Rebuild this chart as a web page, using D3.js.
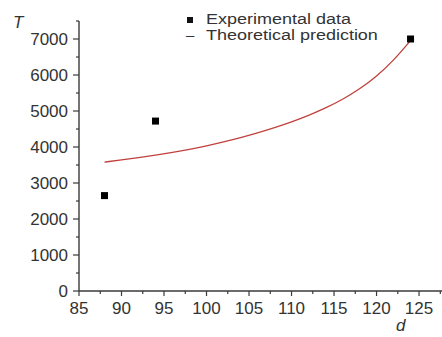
<!DOCTYPE html>
<html>
<head>
<meta charset="utf-8">
<script src="https://cdn.jsdelivr.net/npm/d3@7"></script>
<style>
  body { margin: 0; background: #fff; }
  text { font-family: "Liberation Sans", Arial, sans-serif; fill: #333; }
</style>
</head>
<body>
<div id="chart"></div>
<script>
// experimental points
const expD = [88, 94, 124];
const expT = [2650, 4720, 7000];

// theoretical curve
const theoD = [88, 90, 92, 94, 96, 98, 100, 102, 104, 106, 108, 110, 112, 114, 116, 118, 120, 122, 124];
const theoT = [3580, 3640, 3705, 3775, 3850, 3935, 4030, 4140, 4260, 4390, 4535, 4695, 4875, 5080, 5320, 5605, 5960, 6400, 6960];

const xTicks = [85, 90, 95, 100, 105, 110, 115, 120, 125];
const yTicks = [0, 1000, 2000, 3000, 4000, 5000, 6000, 7000];
const legendLabels = ["Experimental data", "Theoretical prediction"];

const width = 442, height = 337;
const svg = d3.select("#chart").append("svg")
    .attr("width", width).attr("height", height);

const x = d3.scaleLinear().domain([85, 127.7]).range([79, 442]);
const y = d3.scaleLinear().domain([0, 7500]).range([291, 21]);

const axisColor = "#3a3a3a";

// axes lines
svg.append("line")
    .attr("x1", x(85)).attr("x2", x(127.7))
    .attr("y1", y(0)).attr("y2", y(0))
    .attr("stroke", axisColor).attr("stroke-width", 1.4);
svg.append("line")
    .attr("x1", x(85)).attr("x2", x(85))
    .attr("y1", y(0)).attr("y2", y(7500))
    .attr("stroke", axisColor).attr("stroke-width", 1.4);

// x ticks (major + minor)
const xMinor = d3.range(87.5, 128, 5);
svg.append("g").selectAll("line.maj")
    .data(xTicks).enter().append("line")
    .attr("x1", d => x(d)).attr("x2", d => x(d))
    .attr("y1", y(0)).attr("y2", y(0) + 5)
    .attr("stroke", axisColor).attr("stroke-width", 1.2);
svg.append("g").selectAll("line.min")
    .data(xMinor).enter().append("line")
    .attr("x1", d => x(d)).attr("x2", d => x(d))
    .attr("y1", y(0)).attr("y2", y(0) + 3)
    .attr("stroke", axisColor).attr("stroke-width", 1.2);
svg.append("g").selectAll("text")
    .data(xTicks).enter().append("text")
    .attr("x", d => x(d)).attr("y", 314)
    .attr("text-anchor", "middle")
    .style("font-size", "17px")
    .text(d => d);

// y ticks
const yMinor = d3.range(500, 7600, 1000);
svg.append("g").selectAll("line.maj")
    .data(yTicks).enter().append("line")
    .attr("x1", x(85) - 6).attr("x2", x(85))
    .attr("y1", d => y(d)).attr("y2", d => y(d))
    .attr("stroke", axisColor).attr("stroke-width", 1.2);
svg.append("g").selectAll("line.min")
    .data(yMinor).enter().append("line")
    .attr("x1", x(85) - 3).attr("x2", x(85))
    .attr("y1", d => y(d)).attr("y2", d => y(d))
    .attr("stroke", axisColor).attr("stroke-width", 1.2);
svg.append("g").selectAll("text")
    .data(yTicks).enter().append("text")
    .attr("x", 68).attr("y", d => y(d) + 6)
    .attr("text-anchor", "end")
    .style("font-size", "17px")
    .text(d => d);

// axis titles
svg.append("text").attr("x", 13).attr("y", 28)
    .style("font-size", "17px").style("font-style", "italic").text("T");
svg.append("text").attr("x", 396).attr("y", 331)
    .style("font-size", "17px").style("font-style", "italic").text("d");

// theoretical curve
const line = d3.line()
    .x((d, i) => x(theoD[i]))
    .y(d => y(d))
    .curve(d3.curveBasis);
svg.append("path")
    .attr("d", line(theoT))
    .attr("fill", "none")
    .attr("stroke", "#c0403c")
    .attr("stroke-width", 1.3);

// experimental points
svg.append("g").selectAll("rect")
    .data(expD).enter().append("rect")
    .attr("x", d => x(d) - 3.5)
    .attr("y", (d, i) => y(expT[i]) - 3.5)
    .attr("width", 7).attr("height", 7)
    .attr("fill", "#000");

// legend
svg.append("rect").attr("x", 187).attr("y", 17)
    .attr("width", 6).attr("height", 6).attr("fill", "#111");
svg.append("text").attr("x", 186).attr("y", 40)
    .style("font-size", "15px").text("\u2013");
const legText = svg.append("g");
legendLabels.forEach((t, i) => {
    legText.append("text")
        .attr("transform", `translate(206,${24 + i * 16}) scale(1.2,1)`)
        .style("font-size", "15px")
        .text(t);
});
</script>
</body>
</html>
